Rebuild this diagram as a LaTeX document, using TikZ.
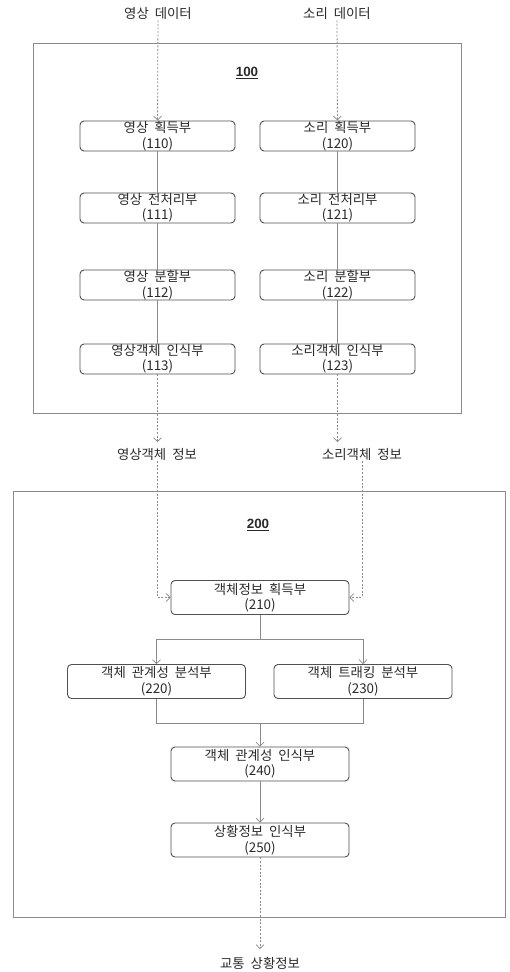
\documentclass[tikz,border=0pt]{standalone}
\usepackage{fontspec}
\setmainfont[WordSpace=2]{Noto Sans CJK KR}
\newfontfamily\numfont{Liberation Sans}
\usetikzlibrary{arrows.meta}
\definecolor{lgrey}{HTML}{8A8A8A}
\definecolor{bgrey}{HTML}{505050}
\definecolor{tgrey}{HTML}{2A2A2A}
\begin{document}
\begin{tikzpicture}[x=1pt,y=-1pt,
  font=\fontsize{13.4}{15.5}\selectfont, text=tgrey,
  unit/.style={draw=bgrey, line width=0.9pt, rounded corners=4pt, align=center,
     inner sep=0pt, minimum height=30pt},
  smallunit/.style={unit, minimum width=155pt},
  bigunit/.style={unit, minimum width=178pt, minimum height=34pt},
  frame/.style={draw=lgrey, line width=0.7pt, inner sep=0pt},
  lab/.style={inner sep=1pt},
  conn/.style={draw=lgrey, line width=0.8pt},
  dsh/.style={conn, dash pattern=on 2pt off 1.6pt},
  tip/.style={-{Straight Barb[length=4pt,width=8pt,line width=0.7pt]}},
]
\useasboundingbox (0,0) rectangle (509,972);
% frames
\node[frame, minimum width=428pt, minimum height=370pt] (f100) at (247,228) {};
\node[frame, minimum width=492pt, minimum height=426pt] (f200) at (259,704) {};
\node (n100) at (247,73) {\numfont\bfseries\underline{100}};
\node (n200) at (258,525) {\numfont\bfseries\underline{200}};
% top labels
\node[lab] (lin1) at (158,13) {영상 데이터};
\node[lab] (lin2) at (337,13) {소리 데이터};
% column 1
\node[smallunit] (b110) at (157.5,136) {영상 획득부\\(110)};
\node[smallunit] (b111) at (157.5,208) {영상 전처리부\\(111)};
\node[smallunit] (b112) at (157.5,285) {영상 분할부\\(112)};
\node[smallunit] (b113) at (157.5,359) {영상객체 인식부\\(113)};
% column 2
\node[smallunit] (b120) at (337.5,136) {소리 획득부\\(120)};
\node[smallunit] (b121) at (337.5,208) {소리 전처리부\\(121)};
\node[smallunit] (b122) at (337.5,285) {소리 분할부\\(122)};
\node[smallunit] (b123) at (337.5,359) {소리객체 인식부\\(123)};
% mid labels
\coordinate (e1) at (157.5,442);
\coordinate (e2) at (337.5,442);
\node[lab] (lout1) at (157,454) {영상객체 정보};
\node[lab] (lout2) at (362,454) {소리객체 정보};
% block 200
\node[bigunit] (b210) at (260,597.5) {객체정보 획득부\\(210)};
\node[bigunit] (b220) at (156.5,681.5) {객체 관계성 분석부\\(220)};
\node[bigunit] (b230) at (363,681.5) {객체 트래킹 분석부\\(230)};
\node[bigunit] (b240) at (260,764) {객체 관계성 인식부\\(240)};
\node[bigunit] (b250) at (260,840) {상황정보 인식부\\(250)};
\coordinate (sp) at (260,639);
\coordinate (mg) at (260,723);
\coordinate (e3) at (260,949);
\node[lab] (lfin) at (260,963) {교통 상황정보};
% connectors column 1/2
\draw[dsh,tip] (lin1) -- (b110);
\draw[dsh,tip] (lin2) -- (b120);
\draw[conn] (b110) -- (b111);
\draw[conn] (b111) -- (b112);
\draw[conn] (b112) -- (b113);
\draw[conn] (b120) -- (b121);
\draw[conn] (b121) -- (b122);
\draw[conn] (b122) -- (b123);
\draw[dsh,tip] (b113) -- (e1);
\draw[dsh,tip] (b123) -- (e2);
% into 210
\draw[dsh,tip] (lout1.south) |- (b210.west);
\draw[dsh,tip] (lout2.south) |- (b210.east);
% split
\draw[conn] (b210) -- (sp);
\draw[conn,tip] (sp) -| (b220.north);
\draw[conn,tip] (sp) -| (b230.north);
% merge
\draw[conn] (b220.south) |- (mg);
\draw[conn] (b230.south) |- (mg);
\draw[conn,tip] (mg) -- (b240);
\draw[conn,tip] (b240) -- (b250);
\draw[dsh,tip] (b250) -- (e3);
\end{tikzpicture}
\end{document}
